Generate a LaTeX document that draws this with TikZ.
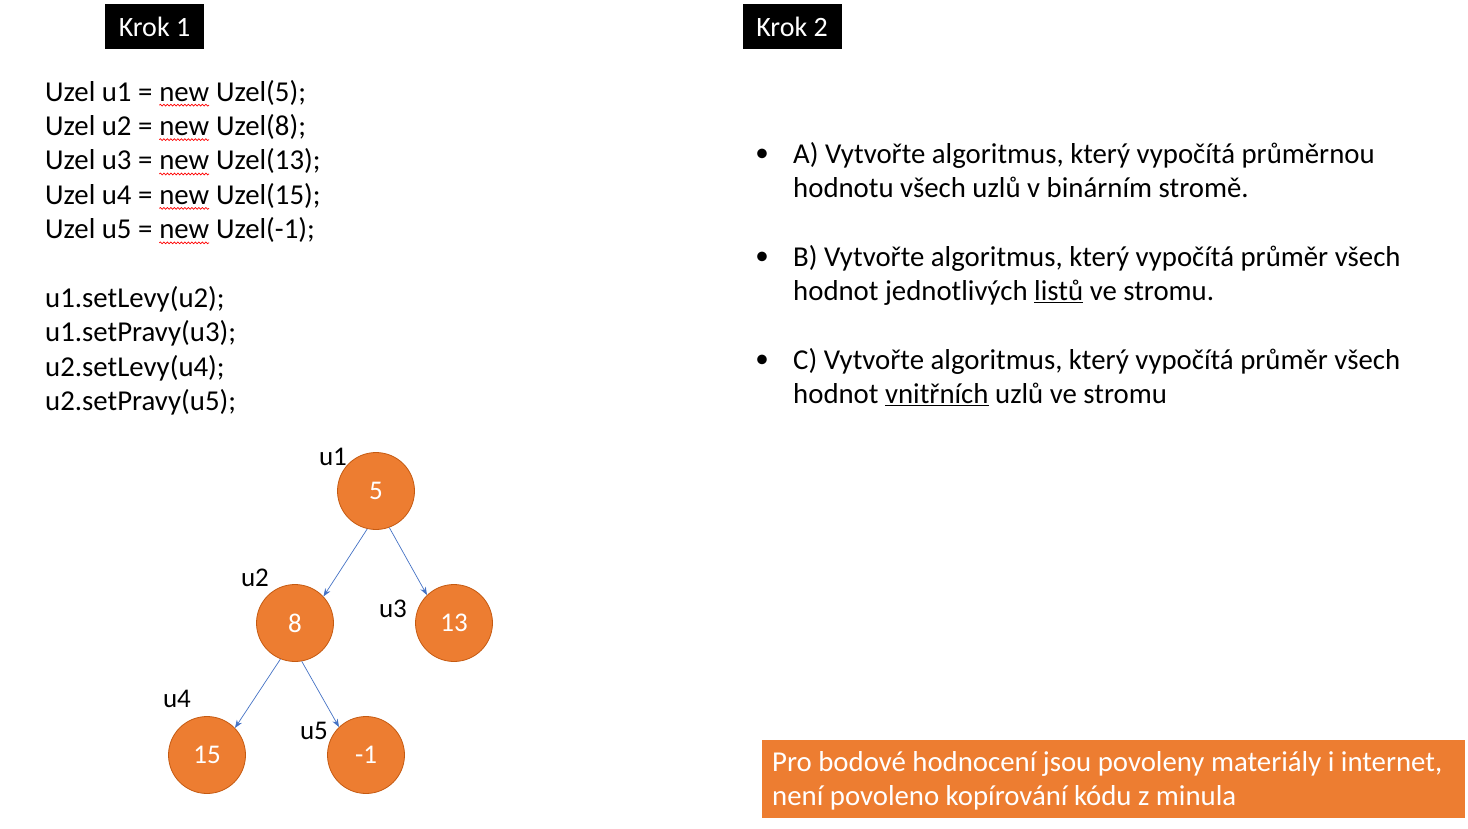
\documentclass[tikz,border=0pt]{standalone}
\usepackage{fontspec}
\setmainfont{Carlito}
\usetikzlibrary{decorations.pathmorphing,arrows.meta}
\definecolor{orng}{HTML}{ED7D31}
\definecolor{orngd}{HTML}{C55A11}
\definecolor{blu}{HTML}{4472C4}
\newcommand\squig[1]{\tikz[baseline=(w.base),x=1cm,y=1cm]{\node[inner sep=0pt,outer sep=0pt](w){#1};\draw[red,line width=0.7pt,decorate,decoration={snake,amplitude=0.9pt,segment length=3.5pt}] ([yshift=-4pt]w.south west) -- ([yshift=-4pt]w.south east);}}
\begin{document}
\begin{tikzpicture}[x=1pt,y=-1pt,
  txt/.style={font=\fontsize{28.8}{34.4}\selectfont,anchor=base west,inner sep=0pt},
  krok/.style={fill=black,text=white,font=\fontsize{28}{30}\selectfont,minimum width=99pt,minimum height=45pt,inner sep=0pt},
  uz/.style={circle,fill=orng,draw=orngd,line width=0.8pt,minimum size=77pt,inner sep=0pt,text=white,font=\fontsize{27}{30}\selectfont},
  lab/.style={font=\fontsize{27}{30}\selectfont,inner sep=0pt},
  arr/.style={draw=blu,line width=0.7pt,-{Stealth[length=8pt,width=6pt]}}]
\useasboundingbox (0,0) rectangle (1468,828);
\node[krok] (k1) at (154.5,26.5) {Krok 1};
\node[krok] (k2) at (792,26.5) {Krok 2};
\foreach \t [count=\i] in {{Uzel u1 = \squig{new} Uzel(5);},{Uzel u2 = \squig{new} Uzel(8);},{Uzel u3 = \squig{new} Uzel(13);},{Uzel u4 = \squig{new} Uzel(15);},{Uzel u5 = \squig{new} Uzel(-1);}}
  \node[txt] (c\i) at (45,{101+(\i-1)*34.4}) {\t};
\foreach \t [count=\i] in {u1.setLevy(u2);,u1.setPravy(u3);,u2.setLevy(u4);,u2.setPravy(u5);}
  \node[txt] (s\i) at (45,{307.4+(\i-1)*34.4}) {\t};
\node[uz] (u1) at (376,491) {5};
\node[uz] (u2) at (295,623) {8};
\node[uz] (u3) at (454,623) {13};
\node[uz] (u4) at (207,755) {15};
\node[uz] (u5) at (366,755) {-1};
\node[lab] (l1) at (333,457) {u1};
\node[lab] (l2) at (255,578) {u2};
\node[lab] (l3) at (393,609) {u3};
\node[lab] (l4) at (177,699) {u4};
\node[lab] (l5) at (314,731) {u5};
\draw[arr] (u1.-103) -- (u2.43);
\draw[arr] (u1.-70) -- (u3.134);
\draw[arr] (u2.-112) -- (u4.44);
\draw[arr] (u2.-80) -- (u5.134);
\node[txt] (a1) at (793,163) {A) Vytvořte algoritmus, který vypočítá průměrnou};
\node[txt] (a2) at (793,197.4) {hodnotu všech uzlů v binárním stromě.};
\node[txt] (b1) at (793,266) {B) Vytvořte algoritmus, který vypočítá průměr všech};
\node[txt] (b2) at (793,300.4) {hodnot jednotlivých \underline{listů} ve stromu.};
\node[txt] (e1) at (793,369) {C) Vytvořte algoritmus, který vypočítá průměr všech};
\node[txt] (e2) at (793,403.4) {hodnot \underline{vnitřních} uzlů ve stromu};
\foreach \y/\n in {155/d1,258/d2,361/d3} \node[lab] (\n) at (762,\y) {•};
\node[fill=orng,minimum width=703pt,minimum height=78pt,inner sep=0pt] (ob) at (1113.5,779) {};
\node[txt,text=white] (o1) at (772,771) {Pro bodové hodnocení jsou povoleny materiály i internet,};
\node[txt,text=white] (o2) at (772,805.4) {není povoleno kopírování kódu z minula};
\end{tikzpicture}
\end{document}
